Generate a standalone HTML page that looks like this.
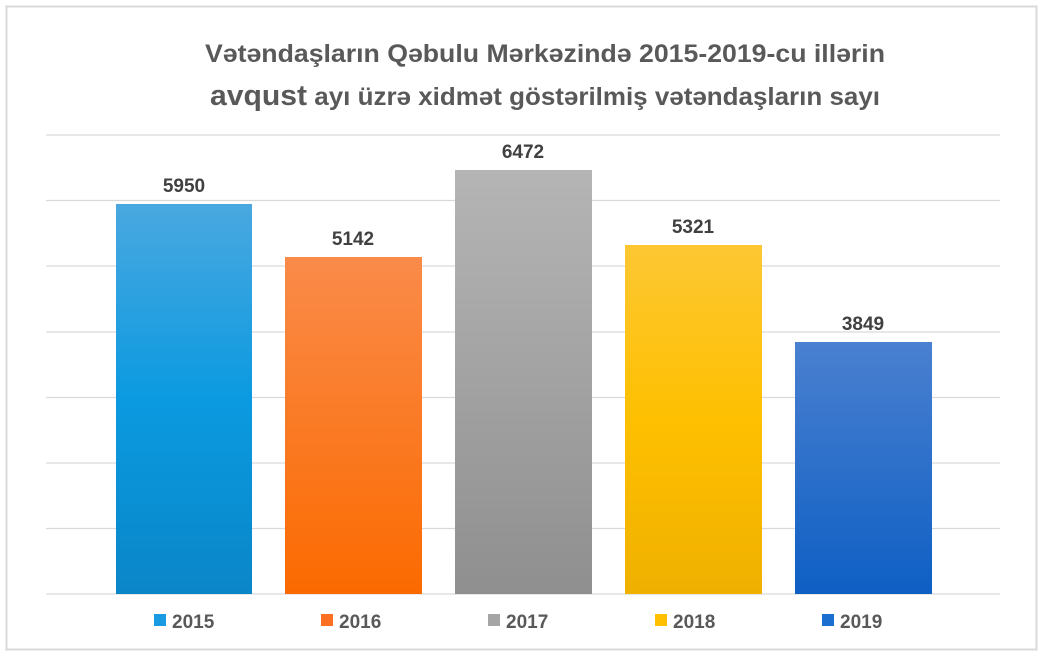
<!DOCTYPE html>
<html><head><meta charset="utf-8"><style>
body{margin:0;background:#fff;width:1044px;height:658px;overflow:hidden;font-family:"Liberation Sans",sans-serif}
</style></head><body>
<svg width="1044" height="658" xmlns="http://www.w3.org/2000/svg">
<defs>
<linearGradient id="g1" x1="0" y1="0" x2="0" y2="1"><stop offset="0" stop-color="#4aa8e0"/><stop offset="0.5" stop-color="#0b9ae0"/><stop offset="1" stop-color="#0a86c8"/></linearGradient>
<linearGradient id="g2" x1="0" y1="0" x2="0" y2="1"><stop offset="0" stop-color="#fa8b4a"/><stop offset="1" stop-color="#fb6a00"/></linearGradient>
<linearGradient id="g3" x1="0" y1="0" x2="0" y2="1"><stop offset="0" stop-color="#b5b5b5"/><stop offset="1" stop-color="#8f8f8f"/></linearGradient>
<linearGradient id="g4" x1="0" y1="0" x2="0" y2="1"><stop offset="0" stop-color="#fdc733"/><stop offset="0.5" stop-color="#fec000"/><stop offset="1" stop-color="#f0b000"/></linearGradient>
<linearGradient id="g5" x1="0" y1="0" x2="0" y2="1"><stop offset="0" stop-color="#4a80d0"/><stop offset="1" stop-color="#0e5fc4"/></linearGradient>
</defs>
<rect x="6.5" y="6.5" width="1030" height="643" fill="#fff" stroke="#d9d9d9" stroke-width="2"/>
<g font-family="Liberation Sans, sans-serif" font-weight="bold" fill="#595959">
<text x="205" y="62" font-size="25" textLength="680" lengthAdjust="spacingAndGlyphs">Vətəndaşların Qəbulu Mərkəzində 2015-2019-cu illərin</text>
<text x="210" y="105" font-size="25" textLength="670" lengthAdjust="spacingAndGlyphs"><tspan font-size="29">avqust</tspan> ayı üzrə xidmət göstərilmiş vətəndaşların sayı</text>
</g>
<g stroke="#d9d9d9" stroke-width="1.3">
<line x1="46" x2="1000" y1="135" y2="135"/><line x1="46" x2="1000" y1="200.5" y2="200.5"/>
<line x1="46" x2="1000" y1="266" y2="266"/><line x1="46" x2="1000" y1="332" y2="332"/>
<line x1="46" x2="1000" y1="397.5" y2="397.5"/><line x1="46" x2="1000" y1="463" y2="463"/>
<line x1="46" x2="1000" y1="528.5" y2="528.5"/><line x1="46" x2="1000" y1="594" y2="594"/>
</g>
<rect x="116" y="204" width="136" height="390" fill="url(#g1)"/>
<rect x="285" y="257" width="137" height="337" fill="url(#g2)"/>
<rect x="455" y="170" width="137" height="424" fill="url(#g3)"/>
<rect x="625" y="245" width="137" height="349" fill="url(#g4)"/>
<rect x="795" y="342" width="137" height="252" fill="url(#g5)"/>
<g font-weight="bold" fill="#404040" font-size="19" text-anchor="middle">
<text x="184" y="192">5950</text><text x="353" y="245">5142</text><text x="523" y="158">6472</text><text x="693" y="233">5321</text><text x="863" y="330">3849</text>
</g>
<g font-weight="bold" fill="#595959" font-size="19">
<rect x="154" y="614" width="12" height="12" fill="#1a9ae0"/><text x="172" y="628">2015</text>
<rect x="321" y="614" width="12" height="12" fill="#fb7020"/><text x="339" y="628">2016</text>
<rect x="488" y="614" width="12" height="12" fill="#a5a5a5"/><text x="506" y="628">2017</text>
<rect x="655" y="614" width="12" height="12" fill="#fec000"/><text x="673" y="628">2018</text>
<rect x="822" y="614" width="12" height="12" fill="#1a6fcf"/><text x="840" y="628">2019</text>
</g>
</svg>
</body></html>
